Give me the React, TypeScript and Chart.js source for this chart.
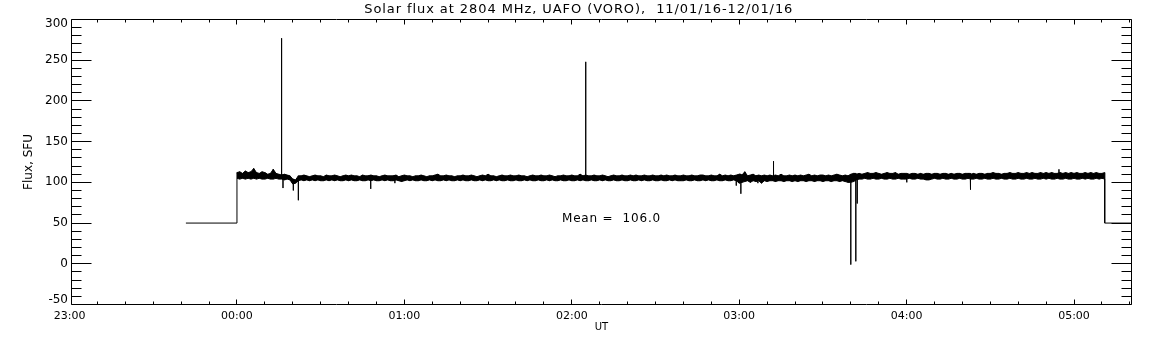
import React, { useEffect, useRef } from 'react';
import { Chart, registerables } from 'chart.js';

Chart.register(...registerables);

// ---------- text ----------
const TITLE = 'Solar flux at 2804 MHz, UAFO (VORO),  11/01/16-12/01/16';
const Y_TITLE = 'Flux, SFU';
const X_TITLE = 'UT';
const MEAN_VALUE = 106.0;

// ---------- axes (x in minutes from 00:00 UT) ----------
const xMin = -59.3;
const xMax = 320.6;
const xTickValues = [-60, 0, 60, 120, 180, 240, 300];
const xTickLabels = ['23:00', '00:00', '01:00', '02:00', '03:00', '04:00', '05:00'];
const xMinorStep = 10;
const yMin = -50;
const yMax = 300;
const yTickStep = 50;
const yMinorStep = 10;

// ---------- data ----------
// receiver off / calibration level before and after the observation
const offLevel = 50;
const offStartMin = -18.3;
const offEndMin = 330;
const bandStartMin = 0; // first minute sample (00:00)

// per-minute envelope of the flux record (max and min within each minute), SFU
const fluxHigh = [
  112, 113, 111, 114, 112, 113, 117, 112, 111, 113, 112, 110, 111, 116, 111, 110, 109, 110, 109, 108,
  104, 103, 108, 108, 109, 108, 107, 108, 109, 108, 108, 107, 109, 108, 108, 109, 108, 107, 108, 109,
  108, 109, 108, 108, 107, 109, 108, 108, 109, 108, 108, 107, 108, 109, 108, 108, 108, 109, 107, 108,
  109, 108, 108, 107, 108, 108, 109, 108, 107, 108, 108, 109, 110, 108, 108, 109, 108, 108, 107, 108,
  108, 109, 108, 108, 109, 108, 107, 108, 109, 108, 110, 108, 108, 107, 108, 109, 108, 108, 109, 108,
  108, 109, 108, 108, 107, 108, 109, 108, 108, 109, 108, 108, 109, 108, 107, 108, 108, 109, 108, 108,
  109, 108, 108, 110, 108, 109, 108, 108, 109, 108, 108, 109, 108, 107, 108, 109, 108, 108, 109, 108,
  108, 109, 108, 109, 108, 108, 109, 108, 108, 109, 108, 108, 109, 108, 109, 108, 108, 109, 108, 108,
  109, 108, 108, 109, 108, 108, 109, 109, 108, 108, 109, 108, 108, 110, 108, 109, 108, 109, 108, 109,
  110, 109, 113, 108, 109, 110, 108, 109, 108, 109, 108, 109, 108, 109, 108, 110, 108, 108, 109, 108,
  109, 108, 109, 108, 109, 110, 108, 109, 108, 109, 109, 108, 109, 108, 109, 110, 109, 108, 109, 108,
  110, 111, 110, 111, 110, 111, 112, 111, 111, 112, 111, 110, 111, 112, 111, 111, 112, 110, 111, 111,
  111, 110, 111, 111, 110, 111, 110, 111, 111, 110, 111, 111, 110, 111, 111, 110, 111, 110, 111, 111,
  110, 111, 111, 110, 111, 110, 111, 111, 110, 111, 111, 112, 111, 111, 110, 111, 111, 112, 111, 111,
  112, 111, 111, 112, 111, 112, 111, 111, 112, 111, 112, 111, 112, 111, 111, 112, 111, 112, 111, 112,
  111, 112, 111, 111, 112, 111, 112, 111, 112, 111, 111, 112,
];
const fluxLow = [
  105, 104, 105, 104, 105, 104, 105, 104, 105, 104, 104, 105, 104, 104, 105, 104, 104, 103, 104, 103,
  98, 99, 102, 103, 102, 103, 102, 103, 102, 103, 102, 102, 103, 102, 103, 102, 103, 102, 102, 103,
  102, 103, 102, 102, 103, 102, 102, 103, 102, 103, 102, 102, 103, 102, 103, 102, 102, 103, 102, 101,
  102, 103, 102, 103, 102, 102, 103, 102, 102, 103, 102, 103, 102, 102, 103, 102, 103, 102, 102, 103,
  102, 103, 102, 102, 103, 102, 102, 103, 102, 103, 102, 102, 103, 102, 103, 102, 102, 103, 102, 102,
  103, 102, 102, 103, 102, 103, 102, 102, 103, 102, 102, 103, 102, 103, 102, 102, 103, 102, 102, 103,
  102, 102, 103, 102, 103, 102, 102, 103, 102, 102, 103, 102, 103, 102, 102, 103, 102, 102, 103, 102,
  102, 103, 102, 102, 103, 102, 103, 102, 102, 103, 102, 102, 103, 102, 102, 103, 102, 103, 102, 102,
  102, 103, 102, 102, 103, 102, 102, 103, 102, 103, 102, 102, 103, 102, 102, 103, 102, 102, 103, 102,
  99, 100, 101, 102, 100, 102, 101, 102, 99, 102, 101, 102, 102, 101, 102, 102, 101, 102, 102, 101,
  102, 101, 102, 102, 101, 102, 102, 101, 102, 102, 101, 102, 102, 101, 102, 102, 101, 102, 101, 100,
  100, 101, 103, 104, 104, 105, 104, 104, 105, 104, 104, 105, 104, 104, 105, 104, 104, 105, 104, 104,
  104, 105, 104, 104, 105, 104, 104, 103, 103, 104, 105, 104, 104, 105, 104, 104, 105, 104, 104, 105,
  104, 104, 105, 104, 104, 105, 104, 104, 105, 104, 104, 105, 104, 104, 105, 104, 104, 105, 104, 104,
  105, 104, 104, 105, 104, 104, 105, 104, 104, 105, 104, 105, 104, 104, 105, 104, 104, 105, 104, 104,
  105, 104, 104, 105, 104, 105, 104, 104, 105, 104, 105, 104,
];

// isolated spikes / dropouts: time (minutes from 00:00) and extreme value (SFU)
const spikeTimes = [16.0, 16.5, 20.2, 22.0, 47.9, 56.6, 125.0, 178.9, 180.6, 186.7, 192.3, 220.0, 221.8, 222.3, 240.1, 262.8, 294.6];
const spikeValues = [277, 93, 90, 78, 92, 99, 248, 96, 86, 99, 126, -1, 3, 74, 100, 91, 116];

// annotation position (data units)
const meanLabelMin = 116.5;
const meanLabelLevel = 55;

function buildPoints() {
  const pts: { x: number; y: number }[] = [];
  pts.push({ x: offStartMin, y: offLevel }, { x: bandStartMin, y: offLevel });
  let s = 0;
  for (let i = 0; i < fluxHigh.length; i++) {
    const t = bandStartMin + i;
    pts.push({ x: t, y: fluxLow[i] }, { x: t, y: fluxHigh[i] });
    while (s < spikeTimes.length && spikeTimes[s] >= t && spikeTimes[s] < t + 1) {
      const st = spikeTimes[s];
      pts.push({ x: st, y: fluxHigh[i] }, { x: st, y: spikeValues[s] }, { x: st, y: fluxHigh[i] });
      s++;
    }
  }
  const last = bandStartMin + fluxHigh.length - 1;
  pts.push({ x: last, y: offLevel }, { x: offEndMin, y: offLevel });
  return pts;
}

const envelope = (arr: number[]) => arr.map((v, i) => ({ x: bandStartMin + i, y: v }));

const FONT = 'DejaVu Sans';

const framePlugin = {
  id: 'idlFrame',
  beforeDraw(chart: any) {
    const ys = chart.scales.y;
    const items = ys.getLabelItems();
    if (items && items.length) {
      items[0].options.translation[1] -= 4.5;
      items[items.length - 1].options.translation[1] += 4;
    }
    const tb = chart.titleBlock;
    if (tb && !tb.__spaced) {
      const orig = tb.draw.bind(tb);
      tb.draw = (...args: any[]) => {
        const c = chart.ctx;
        c.save();
        c.letterSpacing = '0.92px';
        c.translate(13, 0);
        orig(...args);
        c.restore();
      };
      tb.__spaced = true;
    }
  },
  afterDraw(chart: any) {
    const { ctx, chartArea: a } = chart;
    const xs = chart.scales.x;
    const ys = chart.scales.y;
    ctx.save();
    ctx.strokeStyle = '#000';
    ctx.lineWidth = 1;
    ctx.beginPath();
    ctx.rect(a.left, a.top, a.right - a.left, a.bottom - a.top);
    // y ticks
    for (let v = yMin; v <= yMax; v += yMinorStep) {
      const major = (v - yMin) % yTickStep === 0;
      const len = major ? 20 : 10;
      const p = Math.floor(ys.getPixelForValue(v)) + 0.5;
      ctx.moveTo(a.left, p);
      ctx.lineTo(a.left + len, p);
      ctx.moveTo(a.right, p);
      ctx.lineTo(a.right - len, p);
    }
    // x ticks
    for (let v = xTickValues[0]; v <= xMax; v += xMinorStep) {
      if (v < xMin) continue;
      const major = (v - xTickValues[0]) % 60 === 0;
      const len = major ? 5 : 3;
      const p = Math.floor(xs.getPixelForValue(v)) + 0.5;
      ctx.moveTo(p, a.bottom);
      ctx.lineTo(p, a.bottom - len);
      ctx.moveTo(p, a.top);
      ctx.lineTo(p, a.top + len);
    }
    ctx.stroke();
    // mean annotation
    ctx.fillStyle = '#000';
    ctx.font = `12px "${FONT}"`;
    ctx.letterSpacing = '0.8px';
    ctx.textAlign = 'left';
    ctx.textBaseline = 'middle';
    ctx.fillText(
      `Mean =  ${MEAN_VALUE.toFixed(1)}`,
      xs.getPixelForValue(meanLabelMin),
      ys.getPixelForValue(meanLabelLevel)
    );
    ctx.restore();
  },
};

export default function App() {
  const ref = useRef<HTMLCanvasElement | null>(null);
  useEffect(() => {
    document.body.style.margin = '0';
    const canvas = ref.current;
    if (!canvas) return;
    const chart = new Chart(canvas, {
      type: 'line',
      data: {
        datasets: [
          {
            data: buildPoints(),
            borderColor: '#000',
            borderWidth: 1,
            pointRadius: 0,
            tension: 0,
            fill: false,
          },
          {
            data: envelope(fluxHigh),
            borderColor: '#000',
            borderWidth: 1,
            backgroundColor: '#000',
            pointRadius: 0,
            tension: 0,
            fill: '+1',
          },
          {
            data: envelope(fluxLow),
            borderColor: '#000',
            borderWidth: 1,
            pointRadius: 0,
            tension: 0,
            fill: false,
          },
        ],
      },
      options: {
        animation: false,
        responsive: false,
        maintainAspectRatio: false,
        devicePixelRatio: 1,
        layout: { padding: { left: 0, right: 20.5, top: 0, bottom: 0 } },
        plugins: {
          legend: { display: false },
          tooltip: { enabled: false },
          title: {
            display: true,
            text: TITLE,
            color: '#000',
            font: { family: FONT, size: 13, weight: 'normal', lineHeight: 1.1 },
            padding: { top: 2, bottom: 3.2 },
          },
        },
        scales: {
          x: {
            type: 'linear',
            min: xMin,
            max: xMax,
            afterBuildTicks: (scale: any) => {
              scale.ticks = xTickValues.map((v) => ({ value: v }));
            },
            afterFit: (scale: any) => {
              scale.height = 40.5;
            },
            grid: { display: false, drawTicks: false, tickLength: 0 },
            border: { display: false },
            ticks: {
              autoSkip: false,
              maxRotation: 0,
              padding: 5,
              color: '#000',
              font: { family: FONT, size: 11 },
              callback: (v: any) => {
                const i = xTickValues.indexOf(Number(v));
                return i >= 0 ? xTickLabels[i] : '';
              },
            },
            title: {
              display: true,
              text: X_TITLE,
              color: '#000',
              font: { family: FONT, size: 10 },
              padding: { top: 0, bottom: 11.5 },
            },
          },
          y: {
            type: 'linear',
            min: yMin,
            max: yMax,
            afterFit: (scale: any) => {
              scale.width = 71.5;
            },
            grid: { display: false, drawTicks: false, tickLength: 0 },
            border: { display: false },
            ticks: {
              stepSize: yTickStep,
              padding: 3.5,
              color: '#000',
              font: { family: FONT, size: 12 },
            },
            title: {
              display: true,
              text: Y_TITLE,
              color: '#000',
              font: { family: FONT, size: 12 },
              padding: { top: 21.8, bottom: 0 },
            },
          },
        },
      },
      plugins: [framePlugin],
    } as any);
    return () => chart.destroy();
  }, []);
  return (
    <div style={{ position: 'absolute', left: 0, top: 0, width: 1152, height: 345, background: '#fff' }}>
      <canvas ref={ref} width={1152} height={345} style={{ display: 'block', width: 1152, height: 345 }} />
    </div>
  );
}
